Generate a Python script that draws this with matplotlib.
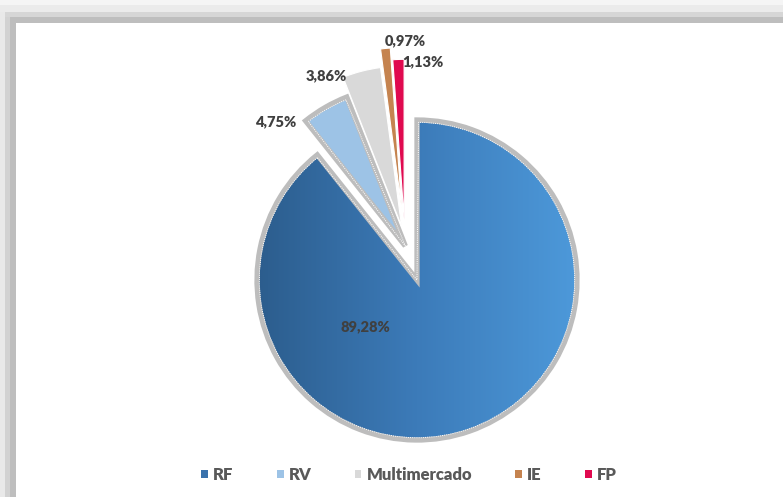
import matplotlib
matplotlib.use("Agg")
import numpy as np
import matplotlib.pyplot as plt
from matplotlib.patches import Patch, Rectangle, Wedge
from matplotlib.colors import LinearSegmentedColormap

# data
categories = ["RF", "RV", "Multimercado", "IE", "FP"]
shares = [89.28, 4.75, 3.86, 0.97, 1.13]
share_labels = ["89,28%", "4,75%", "3,86%", "0,97%", "1,13%"]

# styling / layout (pixel units, y pointing up)
colors = ["#3E7EBE", "#9DC3E6", "#D9D9D9", "#C5834F", "#E0094F"]
legend_colors = ["#3A72AC", "#9DC3E6", "#D9D9D9", "#C5834F", "#E0094F"]
# how far each slice is pulled out, and in which direction (degrees)
explode_px = [0, 36, 56, 74, 62]
explode_dir = [90, 109, 106, 102, 102]
label_xy = [(365, 170), (276, 375), (326, 421), (405, 456), (423, 435)]

W, H = 783, 497
CX, CY, R = 417, 217, 160
FONT = ["Lato", "DejaVu Sans"]

fig = plt.figure(figsize=(W / 100, H / 100), dpi=100)
ax = fig.add_axes([0, 0, 1, 1])

# shadowed frame at top and left
for x, y, w, h, c in [
    (0, 492, W, 5, "#F5F5F5"),
    (0, 485, W, 7, "#EBEBEB"),
    (0, 0, 5, 485, "#E9E9E9"),
    (5, 480, W, 5, "#D6D6D6"),
    (5, 0, 5, 480, "#D2D2D2"),
    (10, 474, W, 6, "#BEBEBE"),
    (10, 0, 6, 474, "#BEBEBE"),
]:
    ax.add_patch(Rectangle((x, y), w, h, facecolor=c, edgecolor="none", zorder=0))

wedges, _ = ax.pie(
    shares,
    colors=colors,
    startangle=90,
    counterclock=False,
    center=(CX, CY),
    radius=R,
    wedgeprops={"edgecolor": "white", "linewidth": 0.8},
    frame=True,
)

# pull the small slices out (Excel-like offsets)
for w, d, a in zip(wedges, explode_px, explode_dir):
    t = np.deg2rad(a)
    w.set_center((CX + d * np.cos(t), CY + d * np.sin(t)))

# RF: horizontal gradient clipped to the wedge
rf = wedges[0]
cmap = LinearSegmentedColormap.from_list("rf", ["#2C5D8D", "#3C7BB9", "#4D99DA"])
grad = np.linspace(0, 1, 256).reshape(1, -1)
im = ax.imshow(grad, cmap=cmap, extent=[CX - R, CX + R, CY - R, CY + R],
               aspect="auto", zorder=0.5, interpolation="bicubic")
im.set_clip_path(rf)
rf.set_facecolor("none")

# grey glow + white dotted edge on RF and RV
for w in wedges[:2]:
    w.set_edgecolor("#BDBDBD")
    w.set_linewidth(3.8)
    ax.add_patch(Wedge(w.center, w.r - 2.3, w.theta1 + 0.6, w.theta2 - 0.6,
                       fill=False, edgecolor="white", linestyle=(0, (1, 1.2)),
                       linewidth=0.7, zorder=3))

for (x, y), txt in zip(label_xy, share_labels):
    ax.text(x, y, txt, ha="center", va="center", fontsize=10.5,
            fontweight="heavy", color="#404040", family=FONT, zorder=5)

handles = [Patch(facecolor=c, edgecolor="none") for c in legend_colors]
ax.legend(handles, categories, loc="center", bbox_to_anchor=(409 / W, 22 / H),
          ncol=5, frameon=False, handlelength=0.4, handleheight=0.4,
          handletextpad=0.3, columnspacing=2.6, labelcolor="#595959",
          prop={"family": FONT, "weight": "heavy", "size": 12})

ax.set_xlim(0, W)
ax.set_ylim(0, H)
ax.set_aspect("auto")
ax.axis("off")

fig.savefig("out.png", dpi=100, facecolor="white")
